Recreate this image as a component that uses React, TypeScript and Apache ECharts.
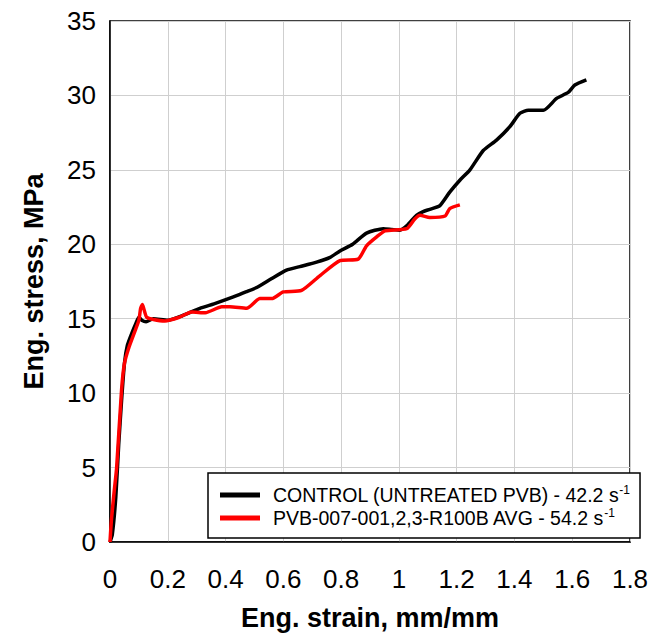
import React, { useEffect, useRef } from "react";
import * as echarts from "echarts";

const controlName = "CONTROL (UNTREATED PVB) - 42.2 s";
const treatedName = "PVB-007-001,2,3-R100B AVG - 54.2 s";

const controlStrain = [0, 0.008, 0.02, 0.03, 0.04, 0.05, 0.06, 0.075, 0.09, 0.1, 0.11, 0.125, 0.15, 0.2, 0.25, 0.311, 0.36, 0.427, 0.47, 0.508, 0.56, 0.611, 0.657, 0.715, 0.76, 0.796, 0.84, 0.888, 0.946, 0.975, 1.003, 1.03, 1.061, 1.084, 1.107, 1.142, 1.176, 1.211, 1.246, 1.292, 1.338, 1.384, 1.419, 1.448, 1.5, 1.546, 1.586, 1.609, 1.649];
const controlStress = [0, 0.5, 3, 6.5, 9.5, 12, 13.2, 14, 14.7, 15.1, 14.9, 14.8, 15.0, 14.9, 15.2, 15.7, 16.0, 16.46, 16.8, 17.1, 17.7, 18.26, 18.5, 18.8, 19.1, 19.55, 20.0, 20.75, 21.05, 21.0, 20.95, 21.3, 21.95, 22.2, 22.35, 22.6, 23.5, 24.3, 25.0, 26.3, 27.0, 27.9, 28.8, 29.0, 29.0, 29.8, 30.2, 30.7, 31.05];

const treatedStrain = [0, 0.005, 0.015, 0.023, 0.04, 0.05, 0.066, 0.087, 0.1, 0.106, 0.112, 0.118, 0.127, 0.15, 0.19, 0.24, 0.283, 0.33, 0.387, 0.415, 0.473, 0.519, 0.56, 0.6, 0.663, 0.727, 0.796, 0.859, 0.888, 0.923, 0.952, 1.027, 1.055, 1.073, 1.107, 1.16, 1.176, 1.211];
const treatedStress = [0, 1.5, 3.5, 5, 10.2, 12.0, 13.1, 14.2, 14.9, 15.7, 15.95, 15.6, 15.1, 14.95, 14.85, 15.1, 15.45, 15.4, 15.8, 15.8, 15.7, 16.35, 16.35, 16.8, 16.9, 17.9, 18.9, 19.0, 19.9, 20.5, 20.9, 21.05, 21.7, 21.95, 21.8, 21.9, 22.4, 22.65];

const xTicks = { min: 0, max: 1.8, interval: 0.2 };
const yTicks = { min: 0, max: 35, interval: 5 };

const FONT = "'Liberation Sans', Arial, sans-serif";

export default function App() {
  const ref = useRef<HTMLDivElement>(null);
  useEffect(() => {
    if (!ref.current) return;
    const chart = echarts.init(ref.current, undefined, { renderer: "svg" });
    const pair = (xs: number[], ys: number[]) => xs.map((x, i) => [x, ys[i]]);
    chart.setOption({
      animation: false,
      backgroundColor: "#fff",
      textStyle: { fontFamily: FONT },
      grid: { left: 110, top: 21, right: 25, bottom: 95, show: true, borderColor: "#000", borderWidth: 1.5, backgroundColor: "transparent" },
      xAxis: {
        type: "value",
        min: xTicks.min,
        max: xTicks.max,
        interval: xTicks.interval,
        name: "Eng. strain, mm/mm",
        nameLocation: "middle",
        nameGap: 62,
        nameTextStyle: { fontSize: 27, fontWeight: "bold", color: "#000", fontFamily: FONT },
        axisLine: { show: true, onZero: false, lineStyle: { color: "#000", width: 1.5 } },
        axisTick: { show: false },
        axisLabel: { fontSize: 26, color: "#000", margin: 24, fontFamily: FONT },
        splitLine: { show: true, lineStyle: { color: "#cfcfcf", width: 1 } },
      },
      yAxis: {
        type: "value",
        min: yTicks.min,
        max: yTicks.max,
        interval: yTicks.interval,
        name: "Eng. stress, MPa",
        nameLocation: "middle",
        nameGap: 63,
        nameTextStyle: { fontSize: 27, fontWeight: "bold", color: "#000", fontFamily: FONT },
        axisLine: { show: true, onZero: false, lineStyle: { color: "#000", width: 1.5 } },
        axisTick: { show: false },
        axisLabel: { fontSize: 26, color: "#000", margin: 14, fontFamily: FONT },
        splitLine: { show: true, lineStyle: { color: "#cfcfcf", width: 1 } },
      },
      legend: {
        orient: "vertical",
        left: 208,
        top: 473,
        padding: [11, 10, 10, 12],
        itemGap: 2,
        itemWidth: 40,
        itemHeight: 5,
        icon: "rect",
        backgroundColor: "#fff",
        borderColor: "#000",
        borderWidth: 1.5,
        borderRadius: 0,
        formatter: (name: string) => `{t|${name}}{sup|-1}`,
        textStyle: {
          color: "#000",
          fontFamily: FONT,
          rich: {
            t: { fontSize: 19.5, lineHeight: 22, padding: [0, 0, 0, 8], fontFamily: FONT, color: "#000" },
            sup: { fontSize: 12, lineHeight: 12, verticalAlign: "top", fontFamily: FONT, color: "#000" },
          },
        },
        data: [controlName, treatedName],
      },
      series: [
        {
          name: controlName,
          type: "line",
          data: pair(controlStrain, controlStress),
          showSymbol: false,
          symbol: "none",
          smooth: 0.2,
          lineStyle: { color: "#000", width: 3.5 },
          itemStyle: { color: "#000" },
        },
        {
          name: treatedName,
          type: "line",
          data: pair(treatedStrain, treatedStress),
          showSymbol: false,
          symbol: "none",
          smooth: 0.2,
          lineStyle: { color: "#ff0000", width: 3.5 },
          itemStyle: { color: "#ff0000" },
        },
      ],
    });
    return () => chart.dispose();
  }, []);
  return <div ref={ref} style={{ width: 655, height: 637, position: "absolute", left: 0, top: 0 }} />;
}
